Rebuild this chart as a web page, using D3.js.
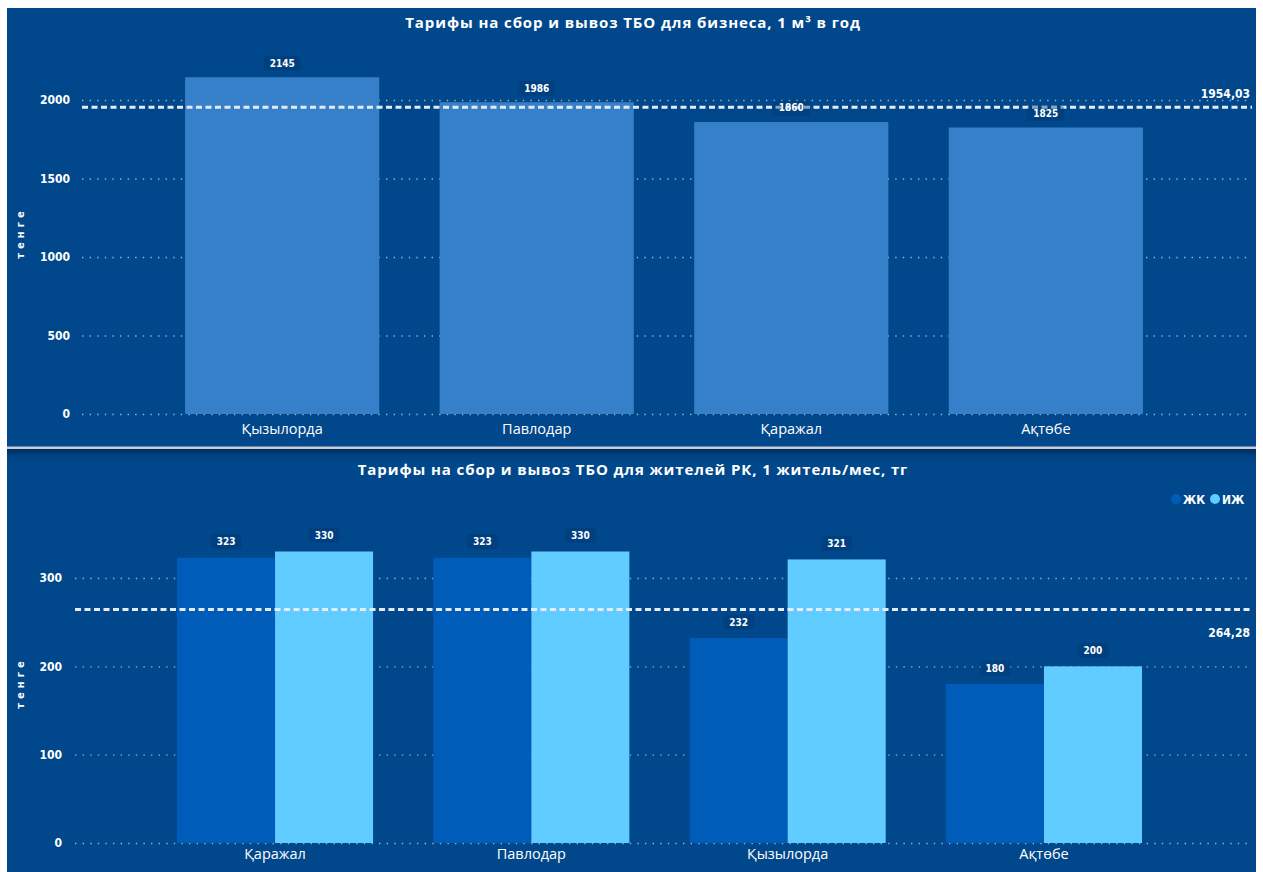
<!DOCTYPE html>
<html><head><meta charset="utf-8">
<script src="https://cdn.jsdelivr.net/npm/d3@7"></script>
<style>
html,body{margin:0;padding:0;background:#fff;}
svg{display:block;}
.cond{font-family:"DejaVu Sans Condensed","DejaVu Sans",sans-serif;font-stretch:condensed;}
</style></head>
<body>
<svg id="chart" width="1263" height="872"></svg>
<script>
// ---- data ----
const topTitle = "Тарифы на сбор и вывоз ТБО для бизнеса, 1 м³ в год";
const topCats = ["Қызылорда", "Павлодар", "Қаражал", "Ақтөбе"];
const topValues = [2145, 1986, 1860, 1825];
const topAvg = 1954.03;
const topTicks = [0, 500, 1000, 1500, 2000];

const botTitle = "Тарифы на сбор и вывоз ТБО для жителей РК, 1 житель/мес, тг";
const botCats = ["Қаражал", "Павлодар", "Қызылорда", "Ақтөбе"];
const seriesNames = ["ЖК", "ИЖ"];
const zhkValues = [323, 323, 232, 180];
const izhValues = [330, 330, 321, 200];
const botAvg = 264.28;
const botTicks = [0, 100, 200, 300];
const yTitle = "тенге";

// ---- styles ----
const BG = "#01478b";
const BAR = "#3580c8";
const DARK = "#005cb9";
const LIGHT = "#61ccff";
const fmt = v => d3.format(".2f")(v).replace(".", ",");

const svg = d3.select("#chart");
const defs = svg.append("defs");
const sh = defs.append("linearGradient").attr("id","shadow").attr("x1",0).attr("x2",0).attr("y1",0).attr("y2",1);
sh.append("stop").attr("offset","0%").attr("stop-color","#002a58").attr("stop-opacity",0.9);
sh.append("stop").attr("offset","100%").attr("stop-color",BG).attr("stop-opacity",0);

svg.append("rect").attr("width",1263).attr("height",872).attr("fill","#fff");
svg.append("rect").attr("x",7).attr("y",8).attr("width",1249).attr("height",441).attr("fill",BG);
svg.append("rect").attr("x",7).attr("y",449).attr("width",1249).attr("height",423).attr("fill",BG);
svg.append("rect").attr("x",7).attr("y",449).attr("width",1249).attr("height",14).attr("fill","url(#shadow)");
svg.append("rect").attr("x",7).attr("y",446.5).attr("width",1249).attr("height",2.5).attr("fill","#c9ccd2");

function yAxisTitle(cy){
  svg.append("text").attr("transform",`translate(24,${cy}) rotate(-90)`)
    .attr("text-anchor","middle").attr("fill","#fff")
    .style("font-family","DejaVu Sans, sans-serif").style("font-size","10px").style("font-weight","bold")
    .style("letter-spacing","4px").text(yTitle);
}

function valueLabel(g, x, y, v){
  const t = g.append("text").attr("class","cond").attr("x",x).attr("y",y).attr("text-anchor","middle")
    .attr("dominant-baseline","central").attr("fill","#fff")
    .style("font-size","10px").style("font-weight","bold").text(v);
  const bb = t.node().getBBox();
  g.insert("rect", () => t.node()).attr("x",bb.x-6).attr("y",bb.y-2).attr("width",bb.width+12).attr("height",bb.height+4)
    .attr("rx",3).attr("fill","#003670").attr("opacity",0.4);
}

function gridAxis(y, ticks, xStart, xEnd, pad){
  const g = svg.append("g").attr("transform",`translate(${xStart},0)`)
    .call(d3.axisLeft(y).tickValues(ticks).tickSize(-(xEnd-xStart)).tickPadding(pad).tickFormat(d3.format("d")));
  g.select(".domain").remove();
  g.selectAll(".tick line").attr("stroke","#c9d3e3").attr("stroke-opacity",0.75).attr("stroke-width",1.4).attr("stroke-dasharray","1.4,6.2");
  g.selectAll(".tick text").attr("class","cond").attr("fill","#fff").style("font-size","12px").style("font-weight","bold");
  return g;
}

function catAxis(x, yPos){
  const g = svg.append("g").attr("transform",`translate(0,${yPos})`)
    .call(d3.axisBottom(x).tickSize(0).tickPadding(0));
  g.select(".domain").remove();
  g.selectAll(".tick text").attr("fill","#fff").style("font-family","Open Sans, sans-serif").style("font-size","14.5px")
    .style("letter-spacing","0px");
}

function avgLine(y, v, xStart, xEnd, labelDy){
  svg.append("line").attr("x1",xStart).attr("x2",xEnd).attr("y1",y(v)).attr("y2",y(v))
    .attr("stroke","#e4ebf4").attr("stroke-width",3).attr("stroke-dasharray","6,3.5");
  svg.append("text").attr("class","cond").attr("x",xEnd-2).attr("y",y(v)+labelDy).attr("text-anchor","end")
    .attr("fill","#fff").style("font-size","12px").style("font-weight","bold").text(fmt(v));
}

function title(txt, cy){
  svg.append("text").attr("x",633).attr("y",cy).attr("text-anchor","middle").attr("fill","#fff")
    .style("font-family","Open Sans, sans-serif").style("font-size","15px").style("font-weight","bold")
    .style("letter-spacing","0.9px").text(txt);
}

// ---- top chart ----
title(topTitle, 28);
yAxisTitle(233);

const xT = d3.scaleBand().domain(topCats).range([57.8,1270.2]).paddingInner(0.2372).paddingOuter(0.5);
const yT = d3.scaleLinear().domain([0,2000]).range([414,100]);
gridAxis(yT, topTicks, 82, 1251, 12);
svg.append("g").selectAll("rect").data(topCats).join("rect")
  .attr("x",d=>xT(d)).attr("width",xT.bandwidth())
  .attr("y",(d,i)=>yT(topValues[i])).attr("height",(d,i)=>yT(0)-yT(topValues[i])).attr("fill",BAR);
catAxis(xT, 424);
avgLine(yT, topAvg, 82, 1252, -9);
const lt = svg.append("g");
topCats.forEach((c,i)=>valueLabel(lt, xT(c)+xT.bandwidth()/2, yT(topValues[i])-14, topValues[i]));

// ---- bottom chart ----
title(botTitle, 475);
yAxisTitle(683);

const xB = d3.scaleBand().domain(botCats).range([48.85,1270.15]).paddingInner(0.235).paddingOuter(0.5);
const xS = d3.scaleBand().domain(seriesNames).range([0,xB.bandwidth()]);
const yB = d3.scaleLinear().domain([0,300]).range([843,578]);
gridAxis(yB, botTicks, 75, 1251, 13);
const series = [zhkValues, izhValues];
const colors = [DARK, LIGHT];
const gb = svg.append("g");
botCats.forEach((c,i)=>{
  seriesNames.forEach((s,j)=>{
    gb.append("rect").attr("x",xB(c)+xS(s)).attr("width",xS.bandwidth())
      .attr("y",yB(series[j][i])).attr("height",yB(0)-yB(series[j][i])).attr("fill",colors[j]);
  });
});
catAxis(xB, 849);
avgLine(yB, botAvg, 75, 1252, 27);
const lb = svg.append("g");
botCats.forEach((c,i)=>{
  seriesNames.forEach((s,j)=>{
    valueLabel(lb, xB(c)+xS(s)+xS.bandwidth()/2, yB(series[j][i])-16, series[j][i]);
  });
});

// legend
const leg = svg.append("g");
const legX = [1176, 1215];
seriesNames.forEach((s,j)=>{
  leg.append("circle").attr("cx",legX[j]).attr("cy",499).attr("r",5).attr("fill",colors[j]);
  leg.append("text").attr("class","cond").attr("x",legX[j]+7).attr("y",503.5).attr("fill","#fff")
    .style("font-size","12px").style("font-weight","bold").text(s);
});
</script>
</body></html>
